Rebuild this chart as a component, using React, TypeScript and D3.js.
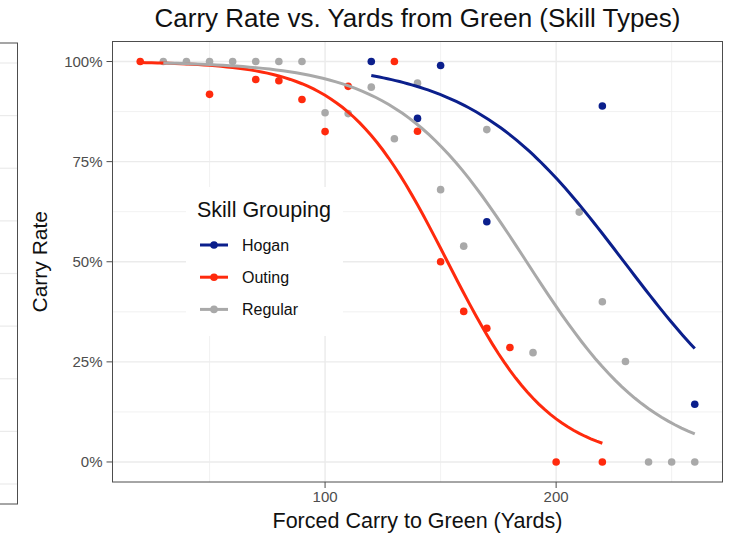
import React from "react";
import * as d3 from "d3";

// ---- data ----
const groups = ["Hogan", "Outing", "Regular"];
const groupColors = ["#0b1f8c", "#ff2a0d", "#a9a9a9"];

const hoganX = [120, 140, 150, 170, 220, 260];
const hoganY = [1.0, 0.858, 0.99, 0.6, 0.889, 0.144];

const outingX = [20, 50, 70, 80, 90, 100, 110, 130, 140, 150, 160, 170, 180, 200, 220];
const outingY = [1.0, 0.918, 0.955, 0.952, 0.905, 0.825, 0.938, 1.0, 0.826, 0.5, 0.376, 0.334, 0.286, 0, 0];

const regularX = [30, 40, 50, 60, 70, 80, 90, 100, 110, 120, 130, 140, 150, 160, 170, 190, 210, 220, 230, 240, 250, 260];
const regularY = [1, 1, 1, 1, 1, 1, 1, 0.872, 0.87, 0.936, 0.807, 0.946, 0.68, 0.539, 0.83, 0.273, 0.624, 0.4, 0.251, 0, 0, 0];

// logistic (binomial glm) smooth coefficients
const fitIntercept = [6.95, 6.885, 6.646];
const fitSlope = [-0.0303, -0.045, -0.0355];

const xTicks = [100, 200];
const xMinorTicks = [50, 150, 250];
const yTicks = [0, 0.25, 0.5, 0.75, 1];
const yMinorTicks = [0.125, 0.375, 0.625, 0.875];

const title = "Carry Rate vs. Yards from Green (Skill Types)";
const xTitle = "Forced Carry to Green (Yards)";
const yTitle = "Carry Rate";
const legendTitle = "Skill Grouping";

const W = 734;
const H = 533;
const FONT = "'Liberation Sans', Arial, Helvetica, sans-serif";

export default function App() {
  const seriesX = [hoganX, outingX, regularX];
  const seriesY = [hoganY, outingY, regularY];

  const allX = seriesX.flat();
  const [xmin, xmax] = d3.extent(allX) as [number, number];
  const xpad = (xmax - xmin) * 0.05;
  const x = d3.scaleLinear().domain([xmin - xpad, xmax + xpad]).range([112.5, 722.5]);
  const y = d3.scaleLinear().domain([-0.05, 1.05]).range([482, 41.5]);

  const [px0, px1] = x.range();
  const [py0, py1] = y.range();

  const fmtPct = d3.format(".0%");

  const logistic = (i: number, v: number) => 1 / (1 + Math.exp(-(fitIntercept[i] + fitSlope[i] * v)));
  const line = d3
    .line<number>()
    .x((v) => x(v))
    .curve(d3.curveLinear);

  const curves = groups.map((g, i) => {
    const [a, b] = d3.extent(seriesX[i]) as [number, number];
    const xs = d3.range(0, 81).map((k) => a + ((b - a) * k) / 80);
    return line.y((v) => y(logistic(i, v)))(xs) as string;
  });

  // phantom neighbouring panel at left edge
  const ghost = d3.scaleLinear().domain([0, 8]).range([63, 484]);
  const ghostLines = d3.range(0, 9);

  const legendX = 186;
  const legendY = 187;
  const legendW = 157;
  const legendH = 149;
  const keyY = d3.scaleLinear().domain([0, 1]).range([245, 277.2]);

  return (
    <svg
      width={W}
      height={H}
      style={{ position: "absolute", left: 0, top: 0, background: "#fff" }}
      fontFamily={FONT}
    >
      <rect x={0} y={0} width={W} height={H} fill="#fff" />

      {/* ghost panel */}
      <g>
        {ghostLines.map((k) => (
          <line key={k} x1={-5} x2={17.5} y1={ghost(k)} y2={ghost(k)} stroke="#ebebeb" strokeWidth={1.2} />
        ))}
        <rect x={-5} y={43} width={22.5} height={461} fill="none" stroke="#4d4d4d" strokeWidth={1} />
      </g>

      {/* grid */}
      <g>
        {yMinorTicks.map((t) => (
          <line key={"ym" + t} x1={px0} x2={px1} y1={y(t)} y2={y(t)} stroke="#ededed" strokeWidth={0.8} />
        ))}
        {xMinorTicks.map((t) => (
          <line key={"xm" + t} x1={x(t)} x2={x(t)} y1={py0} y2={py1} stroke="#ededed" strokeWidth={0.8} />
        ))}
        {yTicks.map((t) => (
          <line key={"y" + t} x1={px0} x2={px1} y1={y(t)} y2={y(t)} stroke="#ebebeb" strokeWidth={1.4} />
        ))}
        {xTicks.map((t) => (
          <line key={"x" + t} x1={x(t)} x2={x(t)} y1={py0} y2={py1} stroke="#ebebeb" strokeWidth={1.4} />
        ))}
      </g>

      {/* points */}
      {groups.map((g, i) => (
        <g key={"p" + g}>
          {seriesX[i].map((v, j) => (
            <circle key={j} cx={x(v)} cy={y(seriesY[i][j])} r={3.8} fill={groupColors[i]} />
          ))}
        </g>
      ))}

      {/* smooths */}
      {groups.map((g, i) => (
        <path key={"c" + g} d={curves[i]} fill="none" stroke={groupColors[i]} strokeWidth={3} />
      ))}

      {/* panel border */}
      <rect x={px0} y={py1} width={px1 - px0} height={py0 - py1} fill="none" stroke="#4d4d4d" strokeWidth={1} />

      {/* axes ticks */}
      {yTicks.map((t) => (
        <g key={"yt" + t}>
          <line x1={px0 - 6} x2={px0} y1={y(t)} y2={y(t)} stroke="#4d4d4d" strokeWidth={1} />
          <text x={px0 - 10} y={y(t)} dy="0.35em" textAnchor="end" fontSize={15} fill="#4d4d4d">
            {fmtPct(t)}
          </text>
        </g>
      ))}
      {xTicks.map((t) => (
        <g key={"xt" + t}>
          <line x1={x(t)} x2={x(t)} y1={py0} y2={py0 + 6} stroke="#4d4d4d" strokeWidth={1} />
          <text x={x(t)} y={py0 + 20} textAnchor="middle" fontSize={15} fill="#4d4d4d">
            {t}
          </text>
        </g>
      ))}

      {/* titles */}
      <text x={(px0 + px1) / 2} y={27} textAnchor="middle" fontSize={26} fill="#111">
        {title}
      </text>
      <text x={(px0 + px1) / 2} y={528} textAnchor="middle" fontSize={21.5} fill="#111">
        {xTitle}
      </text>
      <text
        transform={`translate(47,${(py0 + py1) / 2}) rotate(-90)`}
        textAnchor="middle"
        fontSize={21}
        fill="#111"
      >
        {yTitle}
      </text>

      {/* legend */}
      <g>
        <rect x={legendX} y={legendY} width={legendW} height={legendH} fill="#fff" />
        <text x={legendX + 11} y={legendY + 30} fontSize={21.5} fill="#111">
          {legendTitle}
        </text>
        {groups.map((g, i) => {
          const cy = keyY(i);
          return (
            <g key={"l" + g}>
              <line x1={200} x2={228} y1={cy} y2={cy} stroke={groupColors[i]} strokeWidth={3} />
              <circle cx={214} cy={cy} r={3.8} fill={groupColors[i]} />
              <text x={242} y={cy} dy="0.36em" fontSize={16} fill="#111">
                {g}
              </text>
            </g>
          );
        })}
      </g>
    </svg>
  );
}
